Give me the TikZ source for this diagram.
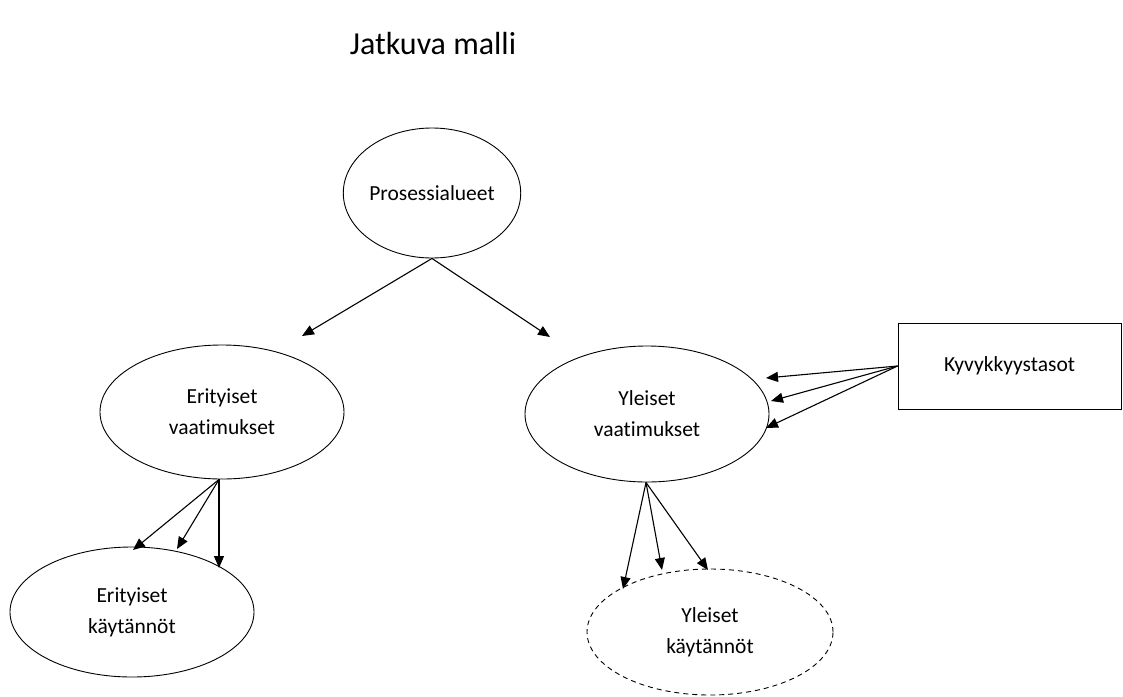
\documentclass[tikz,border=0pt]{standalone}
\usepackage{fontspec}
\setmainfont{Carlito}[RawFeature={-liga}]
\usetikzlibrary{shapes.geometric,arrows.meta}
\begin{document}
\begin{tikzpicture}[x=1pt,y=-1pt,
  oval/.style={draw=black,line width=0.9pt,ellipse,inner sep=0pt,align=center,
    font=\fontsize{21.5}{31}\selectfont},
  box/.style={draw=black,line width=0.9pt,rectangle,inner sep=0pt,
    font=\fontsize{21.5}{31}\selectfont},
  link/.style={draw=black,line width=1.1pt,-{Triangle[length=12pt,width=10pt]}},
  dashedoval/.style={oval,dash pattern=on 5pt off 4pt}
]
\path[use as bounding box] (0,0) rectangle (1123,696);
\node[font=\fontsize{32}{38}\selectfont] (title) at (433,44) {Jatkuva malli};
\node[oval,minimum width=156pt,minimum height=130pt] (pa) at (432,193) {Prosessialueet};
\node[oval,minimum width=244pt,minimum height=134pt] (ev) at (222,412) {Erityiset\\vaatimukset};
\node[oval,minimum width=244pt,minimum height=136pt] (yv) at (647,414) {Yleiset\\vaatimukset};
\node[box,minimum width=223pt,minimum height=86pt] (ky) at (1009.5,366) {\raisebox{-2pt}{Kyvykkyystasot}};
\node[oval,minimum width=244pt,minimum height=130pt] (ek) at (132,612) {Erityiset\\käytännöt};
\node[dashedoval,minimum width=246pt,minimum height=126pt] (yk) at (710,632) {Yleiset\\käytännöt};
% tips
\coordinate (t1) at (302,336);
\coordinate (t2) at (550,337);
\coordinate (t3) at (766,378);
\coordinate (t4) at (771,401);
\coordinate (t5) at (766,428);
\coordinate (t6) at (133,550);
\coordinate (t7) at (177,549);
\coordinate (t8) at (219,568);
\coordinate (t9) at (623,589);
\coordinate (t10) at (662,570);
\coordinate (t11) at (708,570);
\draw[link] (pa.south) -- (t1);
\draw[link] (pa.south) -- (t2);
\draw[link] (ky.west) -- (t3);
\draw[link] (ky.west) -- (t4);
\draw[link] (ky.west) -- (t5);
\draw[link] ([xshift=-3pt]ev.south) -- (t6);
\draw[link] ([xshift=-3pt]ev.south) -- (t7);
\draw[link] ([xshift=-3pt]ev.south) -- (t8);
\draw[link] ([xshift=-1pt]yv.south) -- (t9);
\draw[link] ([xshift=-1pt]yv.south) -- (t10);
\draw[link] ([xshift=-1pt]yv.south) -- (t11);
\end{tikzpicture}
\end{document}
